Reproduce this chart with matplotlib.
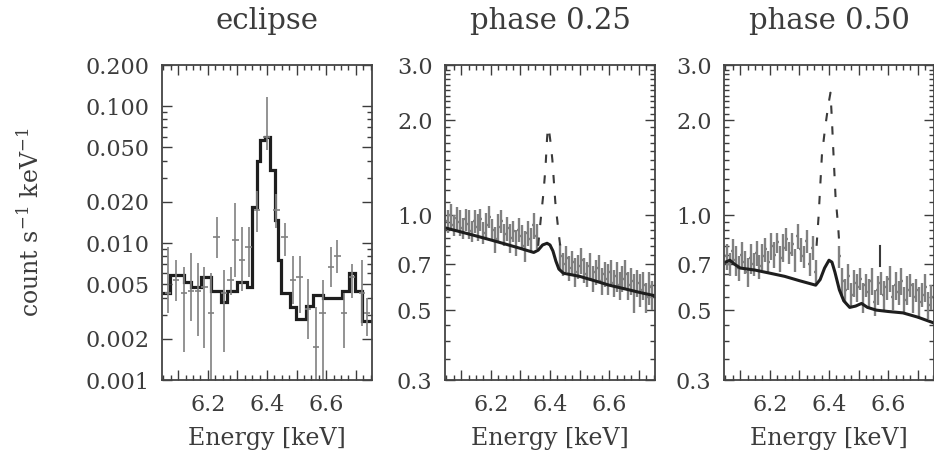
import numpy as np
import matplotlib
matplotlib.use("Agg")
import matplotlib.pyplot as plt
from matplotlib.ticker import FixedLocator, FixedFormatter, NullFormatter

plt.rcParams['font.family'] = ['DejaVu Serif']
plt.rcParams['mathtext.fontset'] = 'dejavuserif'

TXT = '#3c3c3c'
GREY = '#808080'

# ---- eclipse: model (step) and data
ecl_edges = [6.045, 6.071, 6.121, 6.143, 6.177, 6.210, 6.243, 6.266, 6.299, 6.332,
             6.349, 6.366, 6.377, 6.393, 6.410, 6.427, 6.438, 6.449, 6.477, 6.499,
             6.532, 6.554, 6.588, 6.654, 6.677, 6.699, 6.721, 6.755]
ecl_model = [0.0043, 0.0058, 0.0052, 0.0048, 0.0057, 0.0045, 0.0037, 0.0045, 0.0052,
             0.0048, 0.0185, 0.040, 0.057, 0.060, 0.034, 0.0148, 0.0075, 0.0043,
             0.0034, 0.0028, 0.0035, 0.0042, 0.0040, 0.0045, 0.0060, 0.0045, 0.0027]
ecl_e = [6.066, 6.093, 6.119, 6.143, 6.166, 6.188, 6.210, 6.230, 6.254, 6.277,
         6.293, 6.316, 6.338, 6.366, 6.399, 6.432, 6.460, 6.488, 6.510, 6.538,
         6.566, 6.588, 6.616, 6.638, 6.660, 6.688, 6.721, 6.738]
ecl_y = [0.0043, 0.0054, 0.0043, 0.0045, 0.0045, 0.0048, 0.0031, 0.0111, 0.0043, 0.0054,
         0.0105, 0.0075, 0.0094, 0.0175, 0.060, 0.0175, 0.0111, 0.0054, 0.0057, 0.0033,
         0.00175, 0.0031, 0.0067, 0.0080, 0.0031, 0.0057, 0.0043, 0.0031]
ecl_lo = [0.0031, 0.0038, 0.0016, 0.0027, 0.0021, 0.0017, 0.0005, 0.0078, 0.0016, 0.0042,
          0.0057, 0.0045, 0.0057, 0.0120, 0.048, 0.0130, 0.0080, 0.0036, 0.0031, 0.0020,
          0.0005, 0.0005, 0.0048, 0.0060, 0.0017, 0.0040, 0.0025, 0.0021]
ecl_hi = [0.0094, 0.0075, 0.0067, 0.0084, 0.0071, 0.0067, 0.0060, 0.0156, 0.0064, 0.0067,
          0.0195, 0.0132, 0.0132, 0.0240, 0.117, 0.0230, 0.0140, 0.0080, 0.0080, 0.0055,
          0.0034, 0.0054, 0.0094, 0.0105, 0.0043, 0.0070, 0.0075, 0.0040]

# ---- phases: 10 eV bins
ph_e = np.arange(6.055, 6.75, 0.01)
nan = np.nan
ph25_y = [0.96, 1.00, 0.93, 0.98, 0.95, 0.91, 0.97, 0.94, 0.89, 0.96,
          0.92, 0.97, 0.88, 0.93, 0.99, 0.90, 0.84, 0.92, 0.96, 0.87,
          0.91, 0.85, 0.89, 0.82, 0.90, 0.86, 0.80, 0.88, 0.84, 0.93,
          0.86, nan, nan, nan, nan, nan, nan, nan, 0.74, 0.70,
          0.73, 0.68, 0.71, 0.66, 0.69, 0.72, 0.67, 0.65, 0.69, 0.63,
          0.66, 0.68, 0.62, 0.65, 0.63, 0.66, 0.61, 0.64, 0.60, 0.63,
          0.65, 0.60, 0.62, 0.57, 0.61, 0.58, 0.60, 0.55, 0.59, 0.56]
ph25_err = [0.08, 0.09, 0.07, 0.08, 0.09, 0.07, 0.08, 0.10, 0.07, 0.08,
            0.09, 0.08, 0.07, 0.09, 0.08, 0.07, 0.08, 0.09, 0.08, 0.07,
            0.08, 0.09, 0.07, 0.08, 0.08, 0.07, 0.09, 0.08, 0.07, 0.09,
            0.08, nan, nan, nan, nan, nan, nan, nan, 0.07, 0.06,
            0.07, 0.06, 0.06, 0.07, 0.06, 0.07, 0.06, 0.06, 0.07, 0.06,
            0.06, 0.07, 0.06, 0.06, 0.07, 0.06, 0.06, 0.07, 0.06, 0.06,
            0.07, 0.06, 0.06, 0.08, 0.06, 0.07, 0.06, 0.06, 0.07, 0.06]
ph25_model_e = [6.05, 6.10, 6.15, 6.20, 6.25, 6.30, 6.345, 6.36, 6.375, 6.39, 6.40,
                6.41, 6.42, 6.43, 6.445, 6.50, 6.55, 6.60, 6.65, 6.70, 6.755]
ph25_model = [0.91, 0.885, 0.86, 0.835, 0.81, 0.785, 0.762, 0.775, 0.805, 0.815, 0.805,
              0.77, 0.715, 0.675, 0.655, 0.64, 0.62, 0.60, 0.585, 0.57, 0.555]
ph25_line_e = [6.360, 6.370, 6.378, 6.385, 6.390, 6.393, 6.397, 6.402, 6.408, 6.418, 6.428, 6.438]
ph25_line = [0.80, 1.0, 1.18, 1.43, 1.75, 1.9, 1.85, 1.7, 1.5, 1.1, 0.9, 0.75]

ph50_y = [0.74, 0.70, 0.77, 0.72, 0.68, 0.75, 0.71, 0.66, 0.73, 0.70,
          0.76, 0.69, 0.74, 0.78, 0.71, 0.80, 0.75, 0.82, 0.73, 0.79,
          0.84, 0.76, 0.81, 0.72, 0.86, 0.78, 0.74, 0.83, 0.70, 0.79,
          0.66, nan, nan, nan, nan, nan, nan, nan, 0.74, 0.62,
          0.58, 0.64, 0.56, 0.61, 0.59, 0.63, 0.55, 0.60, 0.57, 0.62,
          0.53, 0.58, 0.61, 0.56, 0.59, 0.63, 0.55, 0.60, 0.57, 0.62,
          0.54, 0.58, 0.60, 0.55, 0.58, 0.53, 0.56, 0.59, 0.52, 0.55]
ph50_err = [0.07, 0.06, 0.07, 0.08, 0.06, 0.07, 0.06, 0.07, 0.08, 0.06,
            0.07, 0.06, 0.07, 0.07, 0.06, 0.08, 0.07, 0.06, 0.07, 0.08,
            0.07, 0.06, 0.07, 0.06, 0.08, 0.07, 0.06, 0.07, 0.06, 0.07,
            0.06, nan, nan, nan, nan, nan, nan, nan, 0.06, 0.06,
            0.05, 0.06, 0.05, 0.06, 0.06, 0.05, 0.06, 0.05, 0.06, 0.06,
            0.05, 0.06, 0.05, 0.06, 0.05, 0.06, 0.05, 0.06, 0.05, 0.06,
            0.05, 0.06, 0.05, 0.06, 0.05, 0.06, 0.05, 0.06, 0.05, 0.05]
ph50_model_e = [6.05, 6.065, 6.08, 6.10, 6.15, 6.20, 6.25, 6.30, 6.355, 6.37, 6.385,
                6.40, 6.41, 6.42, 6.435, 6.45, 6.47, 6.49, 6.51, 6.53, 6.56, 6.60,
                6.65, 6.70, 6.755]
ph50_model = [0.71, 0.72, 0.70, 0.68, 0.67, 0.655, 0.64, 0.62, 0.60, 0.625, 0.68,
              0.72, 0.71, 0.66, 0.58, 0.535, 0.51, 0.515, 0.525, 0.51, 0.50, 0.495,
              0.49, 0.475, 0.455]
ph50_line_e = [6.358, 6.365, 6.376, 6.387, 6.398, 6.405, 6.410, 6.414, 6.422, 6.431, 6.436]
ph50_line = [0.80, 1.0, 1.55, 1.9, 2.25, 2.45, 2.0, 1.65, 1.15, 0.92, 0.78]
ph50_spur_e = [6.572, 6.572]
ph50_spur = [0.69, 0.80]

fig = plt.figure(figsize=(9.34, 4.61), dpi=100)
lefts = [162 / 934, 445 / 934, 724 / 934]
W, B, H = 210 / 934, 1 - 380 / 461, 315 / 461
axs = [fig.add_axes([l, B, W, H]) for l in lefts]


def style(ax, ylim, yt, ylab, yminor):
    ax.set_xlim(6.045, 6.755)
    ax.set_yscale('log')
    ax.set_ylim(*ylim)
    ax.xaxis.set_major_locator(FixedLocator([6.1, 6.2, 6.3, 6.4, 6.5, 6.6, 6.7]))
    ax.xaxis.set_major_formatter(FixedFormatter(['', '6.2', '', '6.4', '', '6.6', '']))
    ax.xaxis.set_minor_locator(FixedLocator(np.arange(6.05, 6.76, 0.025)))
    ax.yaxis.set_major_locator(FixedLocator(yt))
    ax.yaxis.set_major_formatter(FixedFormatter(ylab))
    ax.yaxis.set_minor_locator(FixedLocator(yminor))
    ax.yaxis.set_minor_formatter(NullFormatter())
    ax.tick_params(which='both', direction='in', top=True, right=True,
                   colors=TXT, labelsize=16, width=1.0)
    ax.tick_params(which='major', length=7)
    ax.tick_params(which='minor', length=3.5)
    ax.tick_params(axis='y', pad=9)
    ax.tick_params(axis='x', pad=10)
    for s in ax.spines.values():
        s.set_color('#444444')
        s.set_linewidth(1.3)
    ax.set_xlabel('Energy [keV]', fontsize=17, color=TXT, labelpad=8)


# eclipse
ax = axs[0]
yerr = [np.array(ecl_y) - np.array(ecl_lo), np.array(ecl_hi) - np.array(ecl_y)]
ax.errorbar(ecl_e, ecl_y, yerr=yerr, xerr=0.011, fmt='none', ecolor=GREY, elinewidth=1.2)
ax.stairs(ecl_model, ecl_edges, color='#1e1e1e', lw=2.3, baseline=None)
emin = [m * k for k in (0.001, 0.01, 0.1) for m in range(2, 10)]
style(ax, (0.001, 0.2), [0.001, 0.002, 0.005, 0.01, 0.02, 0.05, 0.1, 0.2],
      ['0.001', '0.002', '0.005', '0.010', '0.020', '0.050', '0.100', '0.200'],
      [v for v in emin if 0.001 < v < 0.2])
ax.set_title('eclipse', fontsize=21, color=TXT, pad=26)

pmin = list(np.arange(0.35, 1.0, 0.05)) + list(np.arange(1.1, 3.0, 0.1))
pt = [0.3, 0.5, 0.7, 1.0, 2.0, 3.0]
pl = ['0.3', '0.5', '0.7', '1.0', '2.0', '3.0']

# phase 0.25
ax = axs[1]
ax.errorbar(ph_e, ph25_y, yerr=ph25_err, xerr=0.005, fmt='none', ecolor=GREY, elinewidth=1.7)
ax.plot(ph25_model_e, ph25_model, color='#1e1e1e', lw=2.2)
ax.plot(ph25_line_e, ph25_line, color='#3a3a3a', lw=1.5, ls=(0, (4, 6)))
style(ax, (0.3, 3.0), pt, pl, pmin)
ax.set_title('phase 0.25', fontsize=21, color=TXT, pad=26)

# phase 0.50
ax = axs[2]
ax.errorbar(ph_e, ph50_y, yerr=ph50_err, xerr=0.005, fmt='none', ecolor=GREY, elinewidth=1.7)
ax.plot(ph50_model_e, ph50_model, color='#1e1e1e', lw=2.2)
ax.plot(ph50_line_e, ph50_line, color='#3a3a3a', lw=1.5, ls=(0, (4, 6)))
ax.plot(ph50_spur_e, ph50_spur, color='#3a3a3a', lw=1.5)
style(ax, (0.3, 3.0), pt, pl, pmin)
ax.set_title('phase 0.50', fontsize=21, color=TXT, pad=26)

fig.text(0.033, B + H / 2, r'count s$^{-1}$ keV$^{-1}$', rotation=90,
         ha='center', va='center', fontsize=17, color=TXT)

fig.savefig('out.png', dpi=100)
